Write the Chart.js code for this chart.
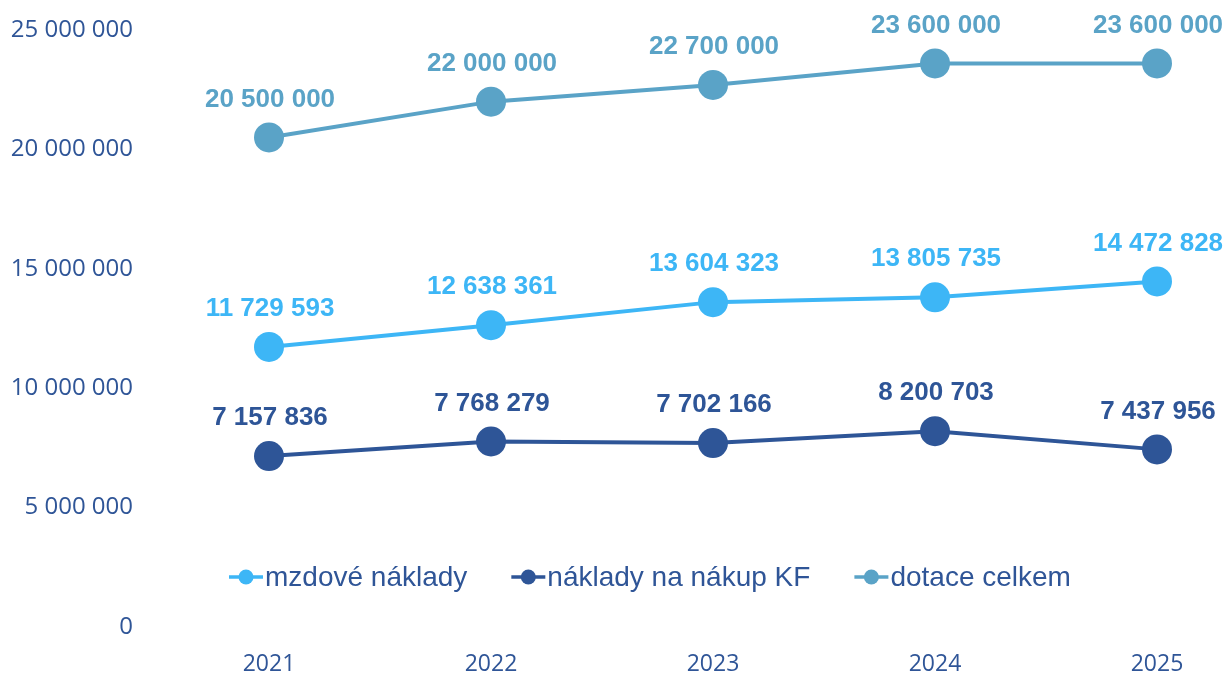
<!DOCTYPE html>
<html>
<head>
<meta charset="utf-8">
<script src="https://cdn.jsdelivr.net/npm/chart.js@4.4.0/dist/chart.umd.min.js"></script>
<style>
  body { margin: 0; background: #fff; }
</style>
</head>
<body>
<canvas id="mycanvas" width="1230" height="674"></canvas>
<script>
var years = ['2021', '2022', '2023', '2024', '2025'];
var mzdoveNaklady = [11729593, 12638361, 13604323, 13805735, 14472828];
var nakladyKF = [7157836, 7768279, 7702166, 8200703, 7437956];
var dotaceCelkem = [20500000, 22000000, 22700000, 23600000, 23600000];
var yTicks = [0, 5000000, 10000000, 15000000, 20000000, 25000000];

function fmt(v) {
	return String(Math.round(v)).replace(/\B(?=(\d{3})+(?!\d))/g, ' ');
}

// value labels above each point
var valueLabels = {
	id: 'valueLabels',
	afterDatasetsDraw: function(chart) {
		var ctx = chart.ctx;
		ctx.save();
		ctx.font = 'bold 26px "Liberation Sans", Arial, sans-serif';
		ctx.textAlign = 'center';
		ctx.textBaseline = 'middle';
		chart.data.datasets.forEach(function(ds, i) {
			var meta = chart.getDatasetMeta(i);
			ctx.fillStyle = ds.borderColor;
			meta.data.forEach(function(pt, j) {
				ctx.fillText(fmt(ds.data[j]), pt.x + 1, pt.y - 38);
			});
		});
		ctx.restore();
	}
};

// legend drawn inside the plot, line + dot markers
var innerLegend = {
	id: 'innerLegend',
	afterDraw: function(chart) {
		var ctx = chart.ctx;
		var x = 229, y = 577;
		ctx.save();
		ctx.font = '28px "Liberation Sans", Arial, sans-serif';
		ctx.textBaseline = 'middle';
		ctx.textAlign = 'left';
		chart.data.datasets.forEach(function(ds) {
			ctx.strokeStyle = ds.borderColor;
			ctx.fillStyle = ds.borderColor;
			ctx.lineWidth = 3.5;
			ctx.beginPath();
			ctx.moveTo(x, y);
			ctx.lineTo(x + 34, y);
			ctx.stroke();
			ctx.beginPath();
			ctx.arc(x + 17, y, 7.5, 0, Math.PI * 2);
			ctx.fill();
			ctx.fillStyle = '#2F5597';
			ctx.fillText(ds.label, x + 36, y + 1);
			x += 36 + ctx.measureText(ds.label).width + 44;
		});
		ctx.restore();
	}
};

var chartdata = {
	labels: years,
	datasets: [
		{
			label: 'mzdové náklady',
			data: mzdoveNaklady,
			borderColor: '#3DB6F6',
			backgroundColor: '#3DB6F6'
		},
		{
			label: 'náklady na nákup KF',
			data: nakladyKF,
			borderColor: '#2E5597',
			backgroundColor: '#2E5597'
		},
		{
			label: 'dotace celkem',
			data: dotaceCelkem,
			borderColor: '#5AA3C7',
			backgroundColor: '#5AA3C7'
		}
	]
};

var ctx = document.getElementById('mycanvas');

var lineGraph = new Chart(ctx, {
	type: 'line',
	data: chartdata,
	plugins: [valueLabels, innerLegend],
	options: {
		responsive: false,
		animation: false,
		layout: { padding: { top: 30, right: 73, left: 0, bottom: 0 } },
		elements: {
			line: { borderWidth: 4, tension: 0 },
			point: { radius: 15, borderWidth: 0, hoverRadius: 15 }
		},
		datasets: { line: { clip: false } },
		plugins: {
			legend: { display: false },
			tooltip: { enabled: false }
		},
		scales: {
			x: {
				offset: false,
				grid: { display: false, drawTicks: false },
				border: { display: false },
				ticks: {
					padding: 24,
					color: '#2F5597',
					font: { family: '"Open Sans", sans-serif', size: 23 }
				},
				afterFit: function(scale) { scale.height = 47; }
			},
			y: {
				min: 0,
				max: 25000000,
				grid: { display: false, drawTicks: false },
				border: { display: false },
				afterBuildTicks: function(scale) {
					scale.ticks = yTicks.map(function(v) { return { value: v }; });
				},
				ticks: {
					padding: 136,
					color: '#2F5597',
					font: { family: '"Open Sans", sans-serif', size: 24 },
					callback: function(v) { return fmt(v); }
				},
				afterFit: function(scale) {
					scale.width = 269;
					scale.paddingTop = 0;
					scale.paddingBottom = 0;
				}
			}
		}
	}
});
</script>
</body>
</html>
